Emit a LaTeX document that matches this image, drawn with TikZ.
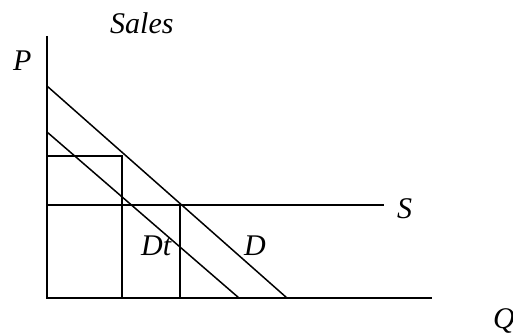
\documentclass[tikz,border=0pt]{standalone}
\usepackage{fontspec}
\setmainfont{Liberation Serif}
\begin{document}
\begin{tikzpicture}[x=1pt,y=1pt,
  ln/.style={line width=1.5pt, black},
  lbl/.style={inner sep=0pt, anchor=base west, font=\fontsize{30}{36}\selectfont\itshape}]
\useasboundingbox (0,0) rectangle (513,335);
% coordinates
\coordinate (O) at (47,37);
\coordinate (Ptop) at (47,299);
\coordinate (Qend) at (432,37);
\coordinate (D1) at (47,249);
\coordinate (D2) at (287,37);
\coordinate (Dt1) at (47,203);
\coordinate (Dt2) at (239,37);
\coordinate (H1) at (47,179);
\coordinate (H2) at (122,179);
\coordinate (H3) at (122,37);
\coordinate (S1) at (47,130);
\coordinate (S2) at (384,130);
\coordinate (V1) at (180,130);
\coordinate (V2) at (180,37);
% lines
\draw[ln] (Ptop) -- (O) -- (Qend);
\draw[ln] (D1) -- (D2);
\draw[ln] (Dt1) -- (Dt2);
\draw[ln] (H1) -- (H2) -- (H3);
\draw[ln] (S1) -- (S2);
\draw[ln] (V1) -- (V2);
% labels
\node[lbl] (sales) at (110,301) {Sales};
\node[lbl] (p) at (13,264) {P};
\node[lbl] (s) at (397,117) {S};
\node[lbl] (dt) at (141,80) {Dt};
\node[lbl] (d) at (244,80) {D};
\node[lbl] (q) at (493,7) {Q};
\end{tikzpicture}
\end{document}
